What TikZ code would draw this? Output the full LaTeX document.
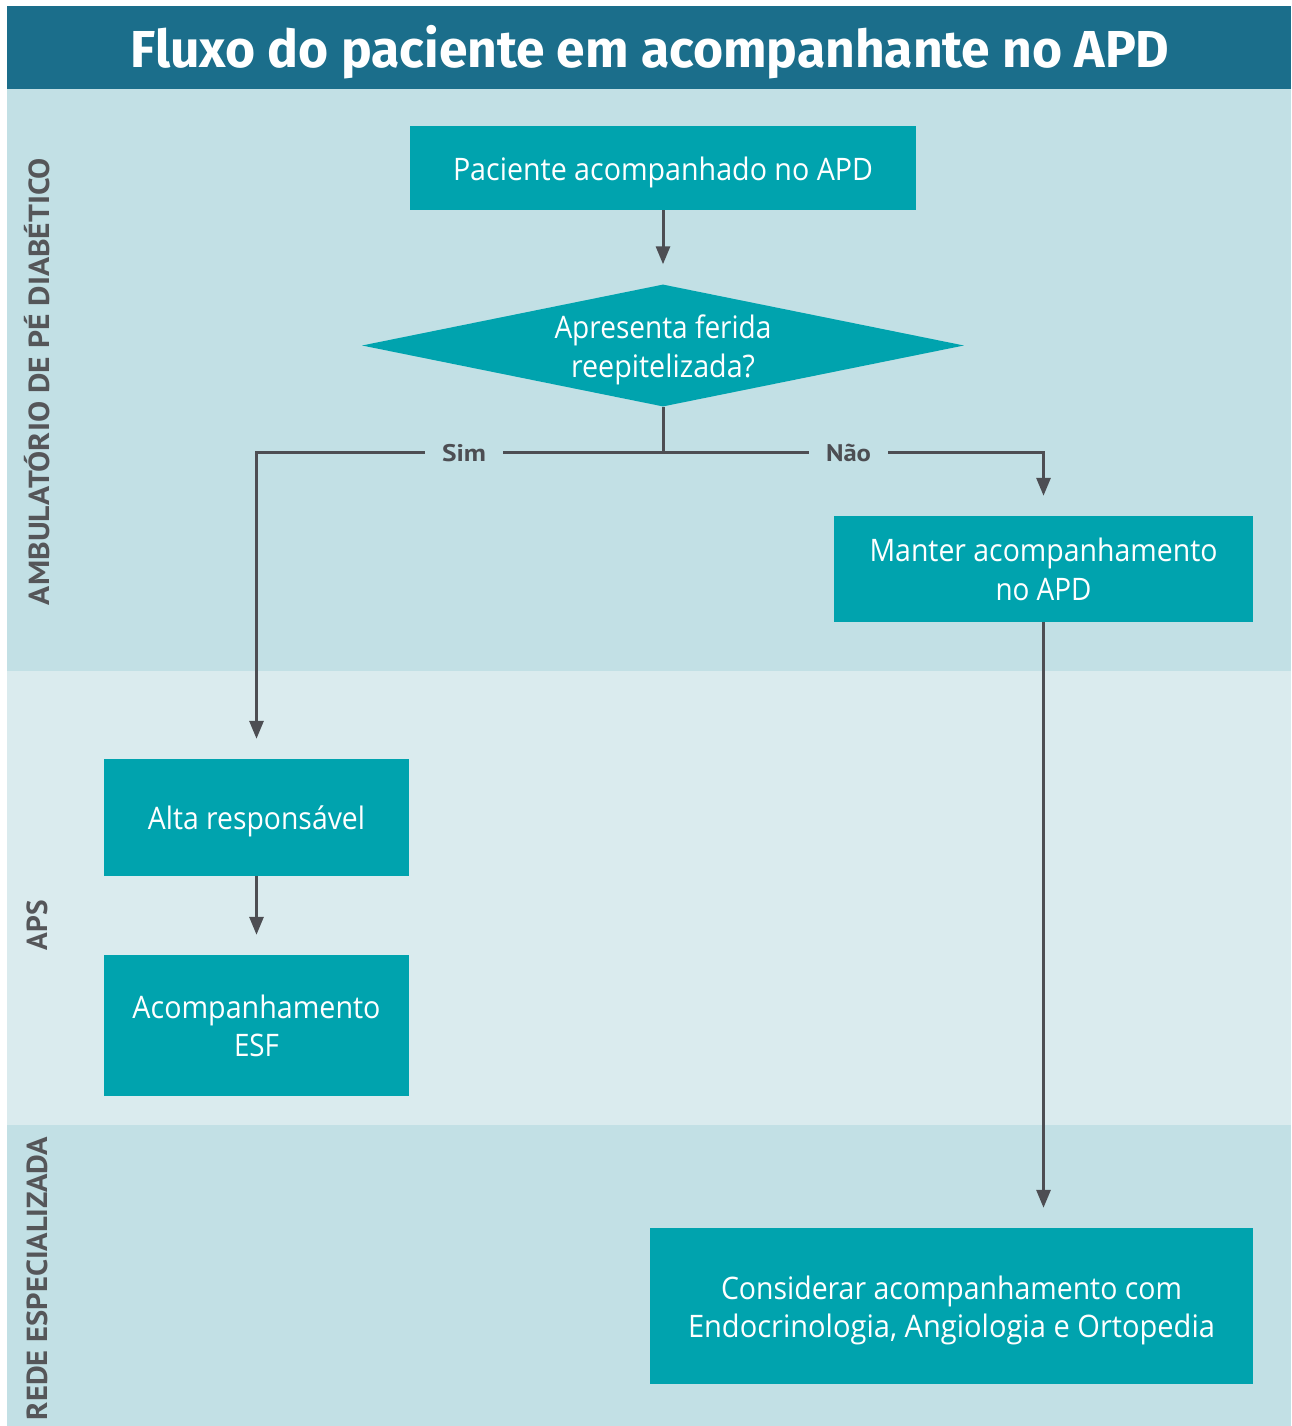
\documentclass[tikz,border=0pt]{standalone}
\usepackage{fontspec}
\usepackage{graphicx}
\setmainfont{Open Sans}
\newfontfamily\titlefont{Fira Sans}
\newfontfamily\lanefont{PT Sans}
\usetikzlibrary{shapes.geometric,arrows.meta}
\definecolor{titlebg}{HTML}{1B6E8B}
\definecolor{laneA}{HTML}{C2E0E5}
\definecolor{laneB}{HTML}{DAEBEE}
\definecolor{boxc}{HTML}{00A3AE}
\definecolor{linec}{HTML}{4D4E53}
\definecolor{lanetxt}{HTML}{555659}
\newcommand{\fitw}[2]{\resizebox{#1pt}{\height}{#2}}
\tikzset{
  boxnode/.style={rectangle, fill=boxc, inner sep=0pt, text=white, align=center,
    font=\fontsize{31}{38.5}\selectfont, text height=24pt, text depth=0pt},
  twoline/.style={text height=62.5pt, text depth=0pt},
  conn/.style={draw=linec, line width=3pt},
  arr/.style={conn, -{Triangle[length=18pt,width=14pt]}, shorten >=20pt},
  branchlbl/.style={fill=laneA, inner xsep=17pt, inner ysep=2pt, text=linec,
    font=\lanefont\bfseries\fontsize{24}{24}\selectfont},
  lanelbl/.style={rotate=90, text=lanetxt, inner sep=0pt,
    font=\lanefont\bfseries\fontsize{29}{29}\selectfont},
}
\begin{document}
\begin{tikzpicture}[x=1pt,y=-1pt]
\useasboundingbox (0,0) rectangle (1291,1426);
\fill[white] (0,0) rectangle (1291,1426);
% title band and lanes
\fill[titlebg] (7,6) rectangle (1291,89);
\fill[laneA] (7,89) rectangle (1291,671);
\fill[laneB] (7,671) rectangle (1291,1125);
\fill[laneA] (7,1125) rectangle (1291,1426);
\node[text=white, inner sep=0pt, anchor=base, font=\titlefont\bfseries\fontsize{52}{52}\selectfont]
  (title) at (650,68) {\fitw{1039}{Fluxo do paciente em acompanhante no APD}};
% lane labels
\node[lanelbl] (laneamb) at (37,381.5) {\fitw{447}{AMBULATÓRIO DE PÉ DIABÉTICO}};
\node[lanelbl] (laneaps) at (37,925) {\fitw{50}{APS}};
\node[lanelbl] (lanerede) at (37,1278.5) {\fitw{283}{REDE ESPECIALIZADA}};
% nodes
\node[boxnode, minimum width=506pt, minimum height=84pt] (pac) at (663,168)
  {\fitw{420}{Paciente acompanhado no APD}};
\node[diamond, fill=boxc, inner sep=0pt, text=white, align=center, aspect=4.93,
  minimum width=602pt, minimum height=122pt,
  font=\fontsize{31}{39}\selectfont, text height=63pt, text depth=0pt] (dec) at (663,345.5)
  {\fitw{217}{Apresenta ferida}\\\fitw{184}{reepitelizada?}};
\node[boxnode, twoline, minimum width=419pt, minimum height=106pt] (man) at (1043.5,569)
  {\fitw{348}{Manter acompanhamento}\\\fitw{96}{no APD}};
\node[boxnode, minimum width=305pt, minimum height=117pt] (alta) at (256.5,817.5)
  {\fitw{217}{Alta responsável}};
\node[boxnode, twoline, minimum width=305pt, minimum height=141pt] (esf) at (256.5,1025.5)
  {\fitw{248}{Acompanhamento}\\\fitw{45}{ESF}};
\node[boxnode, twoline, minimum width=603pt, minimum height=156pt,
  font=\fontsize{31}{38}\selectfont, text height=62pt] (cons) at (951.5,1306)
  {\fitw{461}{Considerar acompanhamento com}\\\fitw{527}{Endocrinologia, Angiologia e Ortopedia}};
% connectors
\coordinate (j) at (663,452);
\draw[arr] (pac.south) -- (dec.north);
\draw[conn] (dec.south) -- (j);
\draw[arr] (j) -| (alta.north);
\draw[arr] (j) -| (man.north);
\node[branchlbl] (sim) at (464,453) {\fitw{44}{Sim}};
\node[branchlbl] (nao) at (848.5,453) {\fitw{45}{Não}};
\draw[arr] (man.south) -- (man.south |- cons.north);
\draw[arr] (alta.south) -- (esf.north);
\end{tikzpicture}
\end{document}
